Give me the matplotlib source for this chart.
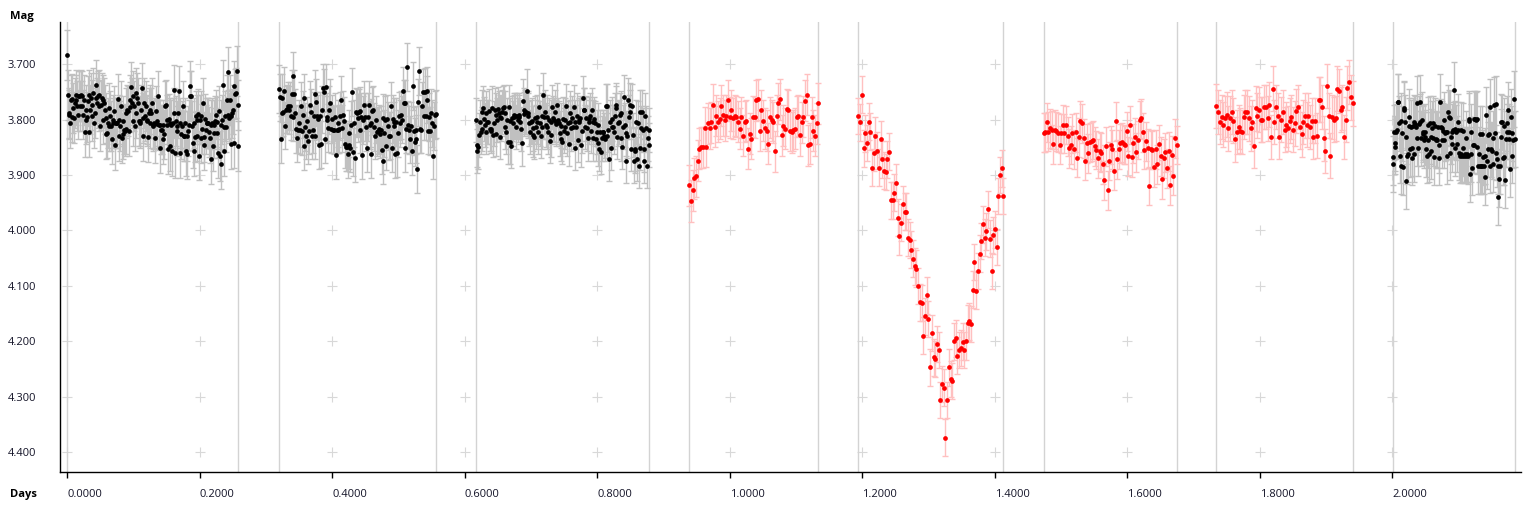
import numpy as np
import matplotlib
matplotlib.use("Agg")
import matplotlib.pyplot as plt
from matplotlib.ticker import FormatStrFormatter

plt.rcParams['font.family'] = ['Open Sans', 'DejaVu Sans']

# night boundaries (days) and per-night settings
seg_start = [0.0000, 0.3195, 0.6168, 0.9392, 1.1942, 1.4735, 1.7345, 2.0002]
seg_end = [0.2585, 0.5564, 0.8788, 1.1339, 1.4131, 1.6742, 1.9398, 2.1843]
seg_err = [0.045, 0.043, 0.040, 0.037, 0.033, 0.035, 0.040, 0.050]
seg_red = [False, False, False, True, True, True, True, False]

mag1 = [3.684, 3.756, 3.788, 3.791, 3.807, 3.764, 3.795, 3.763, 3.779, 3.797, 3.770, 3.764, 3.755, 3.776,
        3.791, 3.758, 3.758, 3.776, 3.755, 3.775, 3.758, 3.791, 3.764, 3.822, 3.782, 3.800, 3.795, 3.767,
        3.823, 3.755, 3.782, 3.761, 3.794, 3.773, 3.752, 3.806, 3.788, 3.761, 3.737, 3.770, 3.758, 3.776,
        3.755, 3.812, 3.774, 3.761, 3.764, 3.800, 3.770, 3.782, 3.827, 3.797, 3.824, 3.806, 3.812, 3.779,
        3.793, 3.812, 3.836, 3.800, 3.806, 3.785, 3.846, 3.806, 3.806, 3.806, 3.763, 3.800, 3.830, 3.812,
        3.776, 3.833, 3.803, 3.827, 3.818, 3.821, 3.788, 3.817, 3.782, 3.785, 3.821, 3.765, 3.777, 3.741,
        3.770, 3.803, 3.758, 3.776, 3.812, 3.752, 3.788, 3.761, 3.770, 3.803, 3.806, 3.803, 3.782, 3.743,
        3.797, 3.830, 3.770, 3.794, 3.776, 3.803, 3.800, 3.831, 3.788, 3.782, 3.806, 3.788, 3.770, 3.809,
        3.812, 3.806, 3.834, 3.785, 3.803, 3.808, 3.758, 3.810, 3.809, 3.852, 3.818, 3.818, 3.836, 3.809,
        3.827, 3.776, 3.773, 3.800, 3.809, 3.854, 3.799, 3.807, 3.848, 3.810, 3.856, 3.806, 3.788, 3.747,
        3.860, 3.802, 3.812, 3.821, 3.789, 3.748, 3.806, 3.860, 3.827, 3.812, 3.776, 3.829, 3.829, 3.806,
        3.857, 3.829, 3.862, 3.821, 3.810, 3.740, 3.758, 3.758, 3.812, 3.842, 3.806, 3.857, 3.831, 3.794,
        3.800, 3.830, 3.790, 3.865, 3.800, 3.833, 3.794, 3.817, 3.770, 3.846, 3.831, 3.799, 3.818, 3.806,
        3.806, 3.806, 3.823, 3.833, 3.872, 3.809, 3.806, 3.848, 3.809, 3.825, 3.803, 3.791, 3.824, 3.805,
        3.860, 3.785, 3.866, 3.809, 3.880, 3.800, 3.738, 3.813, 3.857, 3.793, 3.813, 3.764, 3.791, 3.715,
        3.797, 3.764, 3.845, 3.794, 3.789, 3.782, 3.740, 3.843, 3.754, 3.752, 3.713, 3.848, 3.773]

mag2 = [3.745, 3.760, 3.836, 3.761, 3.789, 3.787, 3.748, 3.811, 3.782, 3.781, 3.776, 3.783, 3.775, 3.794,
        3.754, 3.795, 3.721, 3.754, 3.788, 3.817, 3.833, 3.818, 3.807, 3.819, 3.776, 3.821, 3.791, 3.848,
        3.761, 3.813, 3.829, 3.803, 3.838, 3.820, 3.773, 3.787, 3.829, 3.818, 3.794, 3.829, 3.754, 3.769,
        3.793, 3.799, 3.846, 3.793, 3.845, 3.782, 3.743, 3.751, 3.836, 3.742, 3.800, 3.795, 3.815, 3.783,
        3.770, 3.817, 3.799, 3.818, 3.819, 3.795, 3.864, 3.818, 3.807, 3.818, 3.817, 3.794, 3.764, 3.816,
        3.791, 3.803, 3.845, 3.849, 3.849, 3.862, 3.825, 3.846, 3.851, 3.809, 3.750, 3.858, 3.807, 3.870,
        3.786, 3.788, 3.797, 3.787, 3.784, 3.818, 3.795, 3.864, 3.801, 3.773, 3.796, 3.813, 3.851, 3.796,
        3.774, 3.810, 3.863, 3.806, 3.785, 3.782, 3.814, 3.829, 3.800, 3.823, 3.820, 3.817, 3.827, 3.819,
        3.855, 3.797, 3.874, 3.825, 3.800, 3.848, 3.799, 3.812, 3.830, 3.829, 3.775, 3.851, 3.799, 3.804,
        3.812, 3.862, 3.805, 3.861, 3.825, 3.794, 3.807, 3.792, 3.800, 3.748, 3.771, 3.852, 3.771, 3.817,
        3.705, 3.809, 3.819, 3.836, 3.811, 3.857, 3.739, 3.821, 3.840, 3.835, 3.819, 3.889, 3.769, 3.712,
        3.817, 3.818, 3.776, 3.751, 3.794, 3.750, 3.794, 3.748, 3.764, 3.820, 3.796, 3.821, 3.788, 3.807,
        3.865, 3.812, 3.792, 3.790]

mag3 = [3.801, 3.846, 3.857, 3.850, 3.828, 3.805, 3.822, 3.787, 3.817, 3.780, 3.799, 3.810, 3.823, 3.789,
        3.805, 3.804, 3.784, 3.817, 3.817, 3.820, 3.780, 3.828, 3.807, 3.783, 3.792, 3.826, 3.801, 3.781,
        3.789, 3.831, 3.795, 3.798, 3.786, 3.780, 3.777, 3.813, 3.789, 3.822, 3.801, 3.840, 3.778, 3.840,
        3.802, 3.847, 3.798, 3.807, 3.796, 3.792, 3.793, 3.813, 3.793, 3.801, 3.792, 3.796, 3.805, 3.817,
        3.843, 3.766, 3.783, 3.790, 3.786, 3.786, 3.749, 3.789, 3.793, 3.807, 3.822, 3.805, 3.802, 3.828,
        3.816, 3.832, 3.798, 3.813, 3.804, 3.795, 3.822, 3.777, 3.807, 3.829, 3.813, 3.793, 3.756, 3.795,
        3.787, 3.810, 3.795, 3.813, 3.822, 3.801, 3.838, 3.804, 3.828, 3.777, 3.798, 3.801, 3.786, 3.808,
        3.805, 3.774, 3.801, 3.807, 3.825, 3.811, 3.835, 3.840, 3.799, 3.820, 3.813, 3.801, 3.775, 3.825,
        3.807, 3.844, 3.789, 3.804, 3.816, 3.798, 3.813, 3.777, 3.805, 3.851, 3.813, 3.793, 3.837, 3.801,
        3.804, 3.798, 3.846, 3.820, 3.762, 3.783, 3.783, 3.813, 3.798, 3.816, 3.834, 3.805, 3.799, 3.793,
        3.820, 3.783, 3.804, 3.834, 3.799, 3.807, 3.835, 3.823, 3.843, 3.810, 3.853, 3.822, 3.859, 3.834,
        3.822, 3.823, 3.829, 3.835, 3.775, 3.775, 3.829, 3.819, 3.871, 3.804, 3.851, 3.813, 3.799, 3.813,
        3.822, 3.793, 3.774, 3.780, 3.831, 3.807, 3.804, 3.792, 3.834, 3.789, 3.849, 3.813, 3.760, 3.810,
        3.875, 3.825, 3.829, 3.765, 3.795, 3.786, 3.774, 3.853, 3.775, 3.828, 3.875, 3.853, 3.856, 3.804,
        3.871, 3.807, 3.884, 3.851, 3.786, 3.816, 3.787, 3.819, 3.875, 3.854, 3.793, 3.816, 3.884, 3.834,
        3.846, 3.819]

mag4 = [3.919, 3.947, 3.928, 3.906, 3.902, 3.874, 3.853, 3.850, 3.850, 3.815, 3.849, 3.807, 3.816, 3.805,
        3.773, 3.813, 3.793, 3.804, 3.799, 3.775, 3.792, 3.801, 3.793, 3.765, 3.796, 3.783, 3.798, 3.793,
        3.795, 3.804, 3.817, 3.796, 3.829, 3.804, 3.802, 3.853, 3.826, 3.835, 3.795, 3.796, 3.765, 3.763,
        3.820, 3.783, 3.802, 3.816, 3.820, 3.844, 3.796, 3.801, 3.805, 3.857, 3.793, 3.771, 3.763, 3.828,
        3.811, 3.817, 3.781, 3.783, 3.820, 3.823, 3.819, 3.817, 3.795, 3.793, 3.828, 3.805, 3.795, 3.766,
        3.755, 3.846, 3.844, 3.796, 3.820, 3.829, 3.807, 3.771]

mag5 = [3.794, 3.805, 3.755, 3.852, 3.825, 3.842, 3.804, 3.822, 3.887, 3.860, 3.829, 3.856, 3.887, 3.835,
        3.872, 3.892, 3.895, 3.872, 3.858, 3.946, 3.946, 3.932, 3.914, 3.977, 4.011, 3.986, 3.953, 3.966,
        3.966, 4.013, 4.017, 4.035, 4.051, 4.065, 4.069, 4.100, 4.130, 4.131, 4.190, 4.155, 4.117, 4.160,
        4.247, 4.185, 4.229, 4.232, 4.205, 4.216, 4.306, 4.277, 4.284, 4.374, 4.306, 4.247, 4.268, 4.272,
        4.200, 4.195, 4.226, 4.216, 4.212, 4.201, 4.216, 4.200, 4.167, 4.164, 4.169, 4.107, 4.057, 4.109,
        4.073, 4.042, 4.019, 3.989, 4.013, 4.002, 3.962, 4.015, 4.073, 4.009, 3.998, 4.030, 3.938, 3.900,
        3.888, 3.938]

mag6 = [3.824, 3.823, 3.805, 3.822, 3.816, 3.819, 3.845, 3.818, 3.821, 3.824, 3.846, 3.825, 3.809, 3.825,
        3.810, 3.830, 3.852, 3.846, 3.825, 3.854, 3.823, 3.869, 3.832, 3.802, 3.807, 3.834, 3.875, 3.843,
        3.861, 3.841, 3.839, 3.837, 3.848, 3.855, 3.870, 3.857, 3.860, 3.881, 3.910, 3.848, 3.928, 3.875,
        3.846, 3.854, 3.892, 3.803, 3.872, 3.854, 3.843, 3.841, 3.845, 3.846, 3.821, 3.866, 3.810, 3.868,
        3.843, 3.832, 3.859, 3.837, 3.801, 3.798, 3.823, 3.855, 3.839, 3.852, 3.920, 3.854, 3.855, 3.886,
        3.854, 3.881, 3.845, 3.866, 3.908, 3.870, 3.859, 3.888, 3.857, 3.919, 3.864, 3.901, 3.834, 3.846]

mag7 = [3.775, 3.786, 3.805, 3.796, 3.809, 3.798, 3.791, 3.816, 3.798, 3.786, 3.802, 3.836, 3.822, 3.813,
        3.820, 3.822, 3.796, 3.786, 3.786, 3.798, 3.816, 3.804, 3.847, 3.780, 3.793, 3.782, 3.800, 3.800,
        3.777, 3.777, 3.798, 3.773, 3.832, 3.744, 3.805, 3.777, 3.793, 3.832, 3.800, 3.786, 3.818, 3.809,
        3.816, 3.802, 3.795, 3.818, 3.807, 3.784, 3.777, 3.813, 3.827, 3.804, 3.793, 3.809, 3.793, 3.814,
        3.802, 3.832, 3.802, 3.829, 3.764, 3.764, 3.777, 3.834, 3.857, 3.739, 3.793, 3.865, 3.796, 3.800,
        3.798, 3.744, 3.748, 3.782, 3.778, 3.831, 3.800, 3.743, 3.732, 3.760, 3.771]

mag8 = [3.868, 3.880, 3.823, 3.843, 3.849, 3.822, 3.819, 3.768, 3.768, 3.807, 3.865, 3.802, 3.884, 3.825,
        3.886, 3.780, 3.783, 3.805, 3.911, 3.831, 3.866, 3.863, 3.795, 3.811, 3.853, 3.814, 3.851, 3.869,
        3.811, 3.805, 3.862, 3.808, 3.814, 3.834, 3.771, 3.851, 3.808, 3.804, 3.769, 3.834, 3.801, 3.826,
        3.823, 3.837, 3.822, 3.832, 3.854, 3.865, 3.837, 3.810, 3.863, 3.807, 3.831, 3.857, 3.816, 3.834,
        3.807, 3.868, 3.811, 3.837, 3.835, 3.837, 3.814, 3.869, 3.846, 3.768, 3.813, 3.816, 3.837, 3.820,
        3.801, 3.837, 3.825, 3.823, 3.822, 3.866, 3.787, 3.796, 3.798, 3.860, 3.831, 3.822, 3.844, 3.819,
        3.747, 3.851, 3.817, 3.823, 3.844, 3.804, 3.819, 3.860, 3.865, 3.819, 3.863, 3.865, 3.851, 3.820,
        3.865, 3.863, 3.834, 3.865, 3.863, 3.866, 3.802, 3.799, 3.898, 3.822, 3.863, 3.887, 3.846, 3.799,
        3.846, 3.799, 3.801, 3.849, 3.799, 3.884, 3.863, 3.826, 3.884, 3.884, 3.826, 3.883, 3.868, 3.884,
        3.904, 3.866, 3.792, 3.875, 3.828, 3.854, 3.826, 3.883, 3.777, 3.854, 3.857, 3.834, 3.880, 3.774,
        3.825, 3.860, 3.772, 3.872, 3.940, 3.884, 3.908, 3.884, 3.804, 3.831, 3.805, 3.869, 3.811, 3.868,
        3.910, 3.835, 3.807, 3.822, 3.783, 3.835, 3.822, 3.889, 3.795, 3.825, 3.865, 3.837, 3.763, 3.835]

mags = [mag1, mag2, mag3, mag4, mag5, mag6, mag7, mag8]

xticks = [0.0, 0.2, 0.4, 0.6, 0.8, 1.0, 1.2, 1.4, 1.6, 1.8, 2.0]
yticks = [3.7, 3.8, 3.9, 4.0, 4.1, 4.2, 4.3, 4.4]

fig = plt.figure(figsize=(15.36, 5.12), dpi=100)
ax = fig.add_axes([60 / 1536, 40 / 512, 1461 / 1536, 450 / 512])

# "+" grid marks at tick crossings
gx, gy = np.meshgrid(xticks, yticks)
ax.plot(gx.ravel(), gy.ravel(), '+', color='#d8d8d8', ms=7, mew=0.8, zorder=0)

for s, e, err, red, m in zip(seg_start, seg_end, seg_err, seg_red, mags):
    t = np.linspace(s, e, len(m))
    ax.axvline(s, color='#d3d3d3', lw=1, zorder=0)
    ax.axvline(e, color='#d3d3d3', lw=1, zorder=0)
    ecol = '#ffc0c0' if red else '#c0c0c0'
    pcol = '#ff0000' if red else '#000000'
    ax.errorbar(t, m, yerr=err, fmt='none', ecolor=ecol, elinewidth=1, capsize=2.2,
                capthick=1, zorder=1)
    ax.plot(t, m, 'o', color=pcol, ms=3.4, mew=0, zorder=2)

ax.set_xlim(-0.0106, 2.194)
ax.set_ylim(4.436, 3.624)
ax.set_xticks(xticks)
ax.set_yticks(yticks)
ax.xaxis.set_major_formatter(FormatStrFormatter('%.4f'))
ax.yaxis.set_major_formatter(FormatStrFormatter('%.3f'))
ax.tick_params(axis='y', length=0, pad=17, labelsize=8, labelcolor='#141428')
ax.tick_params(axis='x', length=4, width=1, pad=8, labelsize=8, labelcolor='#141428')
for lab in ax.get_xticklabels():
    lab.set_ha('left')

for side in ['top', 'right']:
    ax.spines[side].set_visible(False)
ax.spines['left'].set_linewidth(1)
ax.spines['bottom'].set_linewidth(1)

fig.text(10 / 1536, 1 - 17 / 512, 'Mag', fontsize=8, fontweight='bold', va='center', ha='left')
fig.text(10 / 1536, 1 - 495 / 512, 'Days', fontsize=8, fontweight='bold', va='center', ha='left')

fig.savefig('out.png', dpi=100)
